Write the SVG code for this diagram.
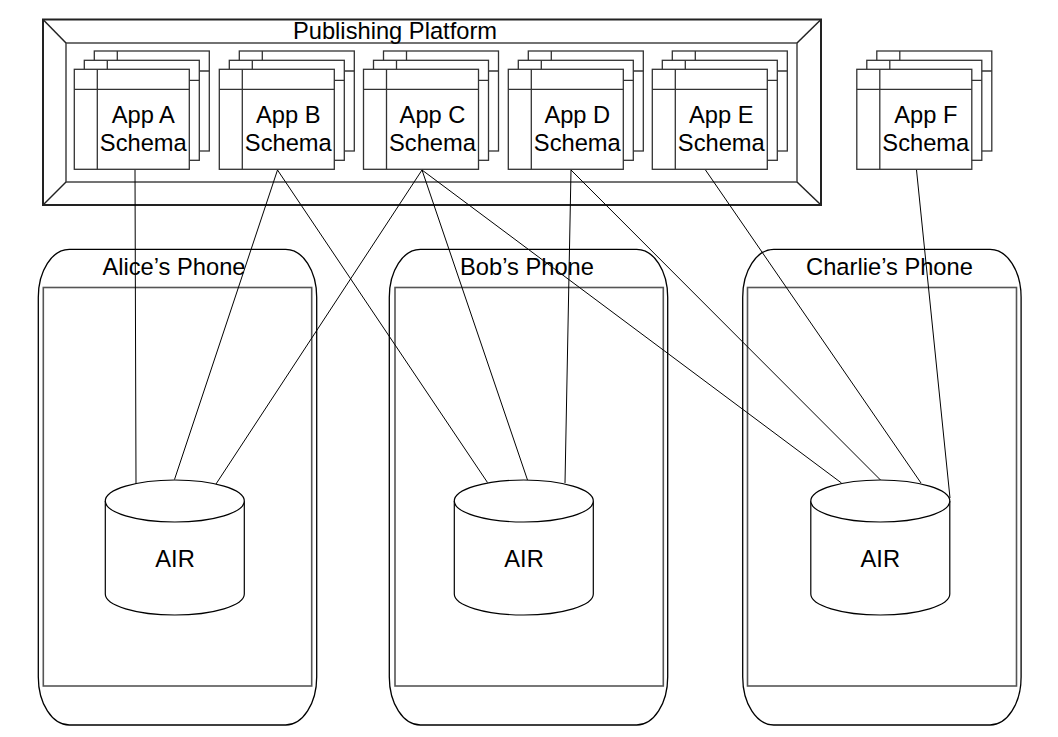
<svg xmlns="http://www.w3.org/2000/svg" width="1058" height="737" viewBox="0 0 1058 737">
<style>
  text { font-family: "Liberation Sans", Arial, sans-serif; font-size: 23.7px; fill: #000; text-anchor: middle; }
  .outer { fill: none; stroke: #000; stroke-width: 1.3; }
  .screen { fill: none; stroke: #555; stroke-width: 1.6; }
  .frame { fill: #fff; stroke: #222; stroke-width: 2; }
  .frameIn { fill: none; stroke: #444; stroke-width: 1.5; }
  .bevel { stroke: #222; stroke-width: 1.5; }
  .card { fill: #fff; stroke: #333; stroke-width: 1.3; }
  .cardln { stroke: #333; stroke-width: 1.3; }
  .cyl { fill: #fff; stroke: #000; stroke-width: 1.2; }
  .conn line { stroke: #000; stroke-width: 1; }
</style>
<defs>
  <g id="card">
    <rect class="card" x="0" y="0" width="115" height="100"/>
    <line class="cardln" x1="23" y1="0" x2="23" y2="100"/>
    <line class="cardln" x1="0" y1="20" x2="115" y2="20"/>
  </g>
  <g id="stack">
    <use href="#card" x="20" y="-18.3"/>
    <use href="#card" x="10" y="-9"/>
    <use href="#card" x="0" y="0"/>
  </g>
  <path id="phoneShape" d="M31,0 H247.4 A31,48 0 0 1 278.4,48 V427.7 A31,48 0 0 1 247.4,475.7 H31 A31,48 0 0 1 0,427.7 V48 A31,48 0 0 1 31,0 Z"/>
  <g id="cylShape">
    <path class="cyl" d="M0,21 V114 A69.5,21 0 0 0 139,114 V21 A69.5,21 0 0 0 0,21 Z"/>
    <path class="cyl" d="M0,21 A69.5,21 0 0 0 139,21"/>
  </g>
</defs>

<g id="alice-phone">
  <use href="#phoneShape" class="outer" x="38.3" y="249.3"/>
  <rect class="screen" x="43.3" y="287.5" width="268.4" height="398.5"/>
  <text x="174" y="275">Alice’s Phone</text>
</g>
<g id="bob-phone">
  <use href="#phoneShape" class="outer" x="389.3" y="249.3"/>
  <rect class="screen" x="395" y="287.5" width="268.3" height="398.5"/>
  <text x="527" y="275">Bob’s Phone</text>
</g>
<g id="charlie-phone">
  <use href="#phoneShape" class="outer" x="742.7" y="249.3"/>
  <rect class="screen" x="747.5" y="287.5" width="269" height="398.5"/>
  <text x="889.5" y="275">Charlie’s Phone</text>
</g>

<g id="publishing-platform">
  <rect class="frame" x="43" y="19.5" width="778" height="185.5"/>
  <rect class="frameIn" x="66" y="43" width="731" height="139"/>
  <line class="bevel" x1="43" y1="19.5" x2="66" y2="43"/>
  <line class="bevel" x1="821" y1="19.5" x2="797" y2="43"/>
  <line class="bevel" x1="43" y1="205" x2="66" y2="182"/>
  <line class="bevel" x1="821" y1="205" x2="797" y2="182"/>
  <text x="395" y="38.5">Publishing Platform</text>
</g>

<g id="app-a">
  <use href="#stack" x="74.3" y="69.3"/>
  <text x="143.3" y="123.3">App A</text>
  <text x="143.3" y="150.7">Schema</text>
</g>
<g id="app-b">
  <use href="#stack" x="219.3" y="69.3"/>
  <text x="288.3" y="123.3">App B</text>
  <text x="288.3" y="150.7">Schema</text>
</g>
<g id="app-c">
  <use href="#stack" x="363.5" y="69.3"/>
  <text x="432.5" y="123.3">App C</text>
  <text x="432.5" y="150.7">Schema</text>
</g>
<g id="app-d">
  <use href="#stack" x="508.3" y="69.3"/>
  <text x="577.3" y="123.3">App D</text>
  <text x="577.3" y="150.7">Schema</text>
</g>
<g id="app-e">
  <use href="#stack" x="652.3" y="69.3"/>
  <text x="721.3" y="123.3">App E</text>
  <text x="721.3" y="150.7">Schema</text>
</g>
<g id="app-f">
  <use href="#stack" x="856.8" y="69.3"/>
  <text x="925.8" y="123.3">App F</text>
  <text x="925.8" y="150.7">Schema</text>
</g>

<g id="air-alice">
  <use href="#cylShape" x="105.3" y="480"/>
  <text x="175" y="566.7">AIR</text>
</g>
<g id="air-bob">
  <use href="#cylShape" x="454.3" y="480"/>
  <text x="524" y="566.7">AIR</text>
</g>
<g id="air-charlie">
  <use href="#cylShape" x="810.8" y="480"/>
  <text x="880.3" y="566.7">AIR</text>
</g>

<g id="connectors" class="conn">
  <line x1="135" y1="170" x2="136" y2="484"/>
  <line x1="277.5" y1="170" x2="174.5" y2="479.5"/>
  <line x1="277.5" y1="170" x2="487.5" y2="482.5"/>
  <line x1="422" y1="170" x2="216" y2="484"/>
  <line x1="422" y1="170" x2="527.5" y2="480"/>
  <line x1="422" y1="170" x2="841.5" y2="483"/>
  <line x1="571" y1="170" x2="565" y2="483"/>
  <line x1="571" y1="170" x2="880.5" y2="480"/>
  <line x1="705.5" y1="170" x2="921" y2="483"/>
  <line x1="916.5" y1="170" x2="950" y2="498"/>
</g>
</svg>
